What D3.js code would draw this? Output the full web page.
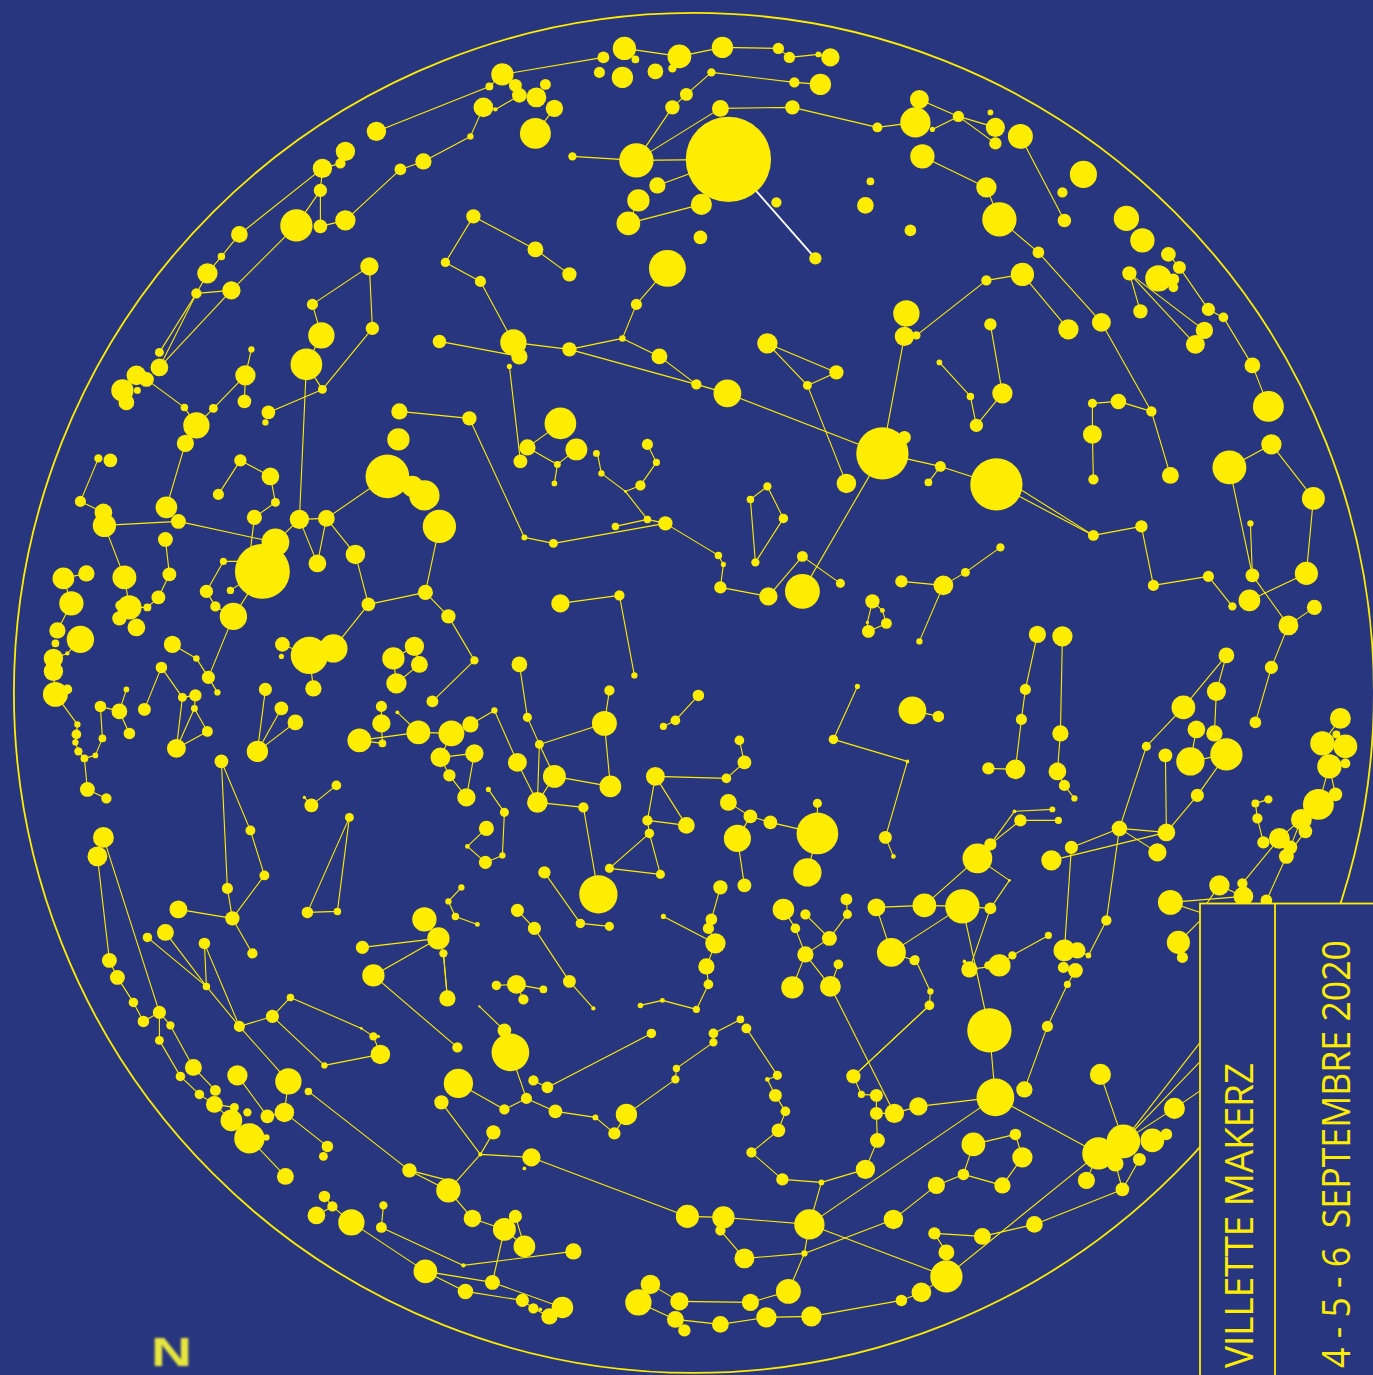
<!DOCTYPE html>
<html><head><meta charset="utf-8">
<script src="https://cdn.jsdelivr.net/npm/d3@7"></script>
<style>html,body{margin:0;padding:0;background:#28367f;overflow:hidden}svg{display:block}</style>
</head><body><svg id="c" width="1373" height="1375"></svg>
<script>
// Stars: [sky x, sky y, brightness]
const starsNorthWest=[[376,131,9.5],[345,151,9.5],[340,163,5],[322,168,9.5],[320,190,6.5],[320,226,6.7],[345,220,10],[296,225,16],[239,234,8.2],[221,256,3.6],[207,273,10],[196,293,5],[231,290,9],[159,352,4.3],[159,367,8.7],[136,375,9.7],[146,379,7.3],[122,390,11],[126,402,7.7],[137,390,3.3],[184,407,3.6],[196,425,13],[185,443,8.4],[213,408,4.3],[245,375,10],[251,349,3],[244,401,6.7],[268,412,6.7],[265,422,3],[322,389,4.3],[306,364,15.7],[321,335,13],[312,304,5.4],[369,266,9],[372,328,6.5],[399,411,8],[398,439,11],[387,476,21.7],[400,169,5.7],[423,161,8],[445,262,4.5],[439,341,6.6],[98,458,4],[110,460,6.7],[240,460,6]];
const starsNorth=[[624,48,11.5],[635,59,3.7],[603,57,5.8],[599,72,5.4],[622,77,10.5],[655,71,7.7],[679,56,11.7],[672,68,4],[722,47,10.5],[778,48,5.5],[789,57,5.5],[818,54,2.8],[830,57,9],[711,72,4],[794,82,5],[820,84,10.5],[686,94,6.3],[672,107,7],[720,108,8.3],[792,107,7],[877,127,4.8],[636,160,17],[572,156,4],[728,159,42.5],[657,185,8],[638,200,11],[701,204,10.4],[628,223,11.7],[700,237,6.7],[776,202,5],[815,258,6],[865,205,8.2],[870,181,3.7],[910,230,5.7],[667,268,18.3],[636,304,5.4],[622,338,3.1],[659,356,7.8],[569,349,7],[513,342,13],[519,356,8],[509,366,2.4],[696,384,5],[727,393,13.7],[767,343,10],[836,372,7],[807,385,4.3],[906,313,13],[904,336,9.5],[916,335,4],[882,453,26],[904,437,6.3],[535,249,7.8],[569,274,7],[480,281,5.4],[473,216,7],[469,418,7],[560,423,15.7],[527,447,8],[576,449,10.8],[520,461,6.8],[647,444,5.4],[596,453,3.3],[502,74,11],[489,86,3.8],[515,85,6.3],[519,95,7.2],[545,84,5.3],[536,97,9.8],[554,108,8.5],[483,107,9.7],[495,109,2],[535,133,15.3],[470,136,3]];
const starsNorthEast=[[919,99,9.3],[915,122,15],[958,116,5.5],[932,129,2.4],[990,112,2.7],[995,127,9.4],[995,143,6],[1020,136,12.3],[922,156,12],[986,187,10],[999,219,17],[1083,174,13.4],[1062,192,5],[1064,220,6.6],[1126,218,12.5],[1142,240,12],[1168,254,7.2],[1179,267,6.3],[1129,273,7],[1158,278,13],[1173,279,5.7],[1173,287,4.7],[1208,309,6.5],[1223,317,4.7],[1140,311,7],[1204,330,8.5],[1195,344,9.3],[1038,252,5.7],[1022,274,11.5],[986,280,5],[1068,329,10],[1101,322,9.3],[990,324,6],[939,362,2.7],[970,396,3.6],[1002,393,10],[976,425,6.5],[1252,365,7.7],[1268,406,15.3],[1271,444,10],[1229,467,16.8],[1118,401,7.6],[1092,403,4.4],[1151,411,5],[1092,434,9.3],[1093,479,5],[1170,475,8.3]];
const starsWest=[[80,501,5.4],[103,512,8.7],[104,525,11.5],[178,521,7.3],[166,507,10.7],[165,539,7.3],[169,574,6.8],[158,597,6.8],[147,607,3.8],[124,577,11.8],[129,607,12],[120,605,5],[119,618,7],[136,627,8.7],[63,578,10.7],[86,573,8],[71,603,12],[57,630,8],[80,639,13.5],[55,643,3.7],[67,653,2],[53,658,9.5],[53,671,9.5],[55,694,12.3],[67,689,4.7],[77,724,3],[76,734,4.7],[75,742,3],[78,751,4],[84,758,3.7],[95,755,2.7],[102,738,3.7],[100,706,5.6],[119,711,7.7],[126,689,2.7],[129,733,5.6],[87,789,7.3],[106,798,5],[144,709,6.3],[161,667,5.6],[172,644,8.4],[196,658,3.1],[208,677,6.4],[217,692,3],[182,697,4.3],[195,695,6],[194,708,3.3],[207,731,5.3],[176,748,9.3],[265,689,6.4],[281,708,6.7],[295,722,7.7],[257,751,10.5],[221,761,6.7],[250,830,4.8],[264,875,4.8],[227,888,5.4],[232,918,7],[178,909,8.8],[103,837,10.3],[97,856,9.8],[311,805,6.8],[336,785,4.7],[304,797,1.5],[349,817,4.3],[337,911,3.6],[307,912,5.6],[218,494,5.4],[270,476,8.7],[275,502,4.3],[254,517,7.4],[275,542,13.7],[262,571,27.3],[223,561,3.4],[206,591,6.5],[215,606,5],[230,590,3.5],[233,616,13.5],[299,519,9.5],[326,518,8.2],[317,563,8.7],[355,554,9.6],[368,604,6.7],[425,592,7.4],[448,616,7],[412,486,10.5],[424,495,15],[439,526,16.5],[282,644,7.2],[281,656,2.4],[309,655,18.5],[333,648,14],[313,688,8],[393,658,11],[414,646,9.5],[419,664,8.3],[396,683,10],[432,701,5.8],[381,706,5.4],[381,723,9],[397,712,1.8],[382,743,3.7],[359,740,11.8],[418,732,11.8],[451,733,12.8],[440,757,9.7],[449,775,6]];
const starsCentre=[[557,464,3.3],[554,483,2.7],[601,473,3],[640,485,5],[656,462,3.4],[625,491,1.3],[647,519,3.6],[615,526,3.6],[665,523,7],[524,537,2.8],[553,543,4.3],[718,555,3.6],[723,564,2.4],[720,587,6],[768,596,9],[802,591,17.3],[802,556,5.3],[840,583,4.4],[767,486,4],[750,499,3.6],[783,518,4.6],[755,562,4],[846,483,9.6],[901,581,6],[872,601,7],[882,610,2.3],[886,623,5.3],[867,622,1.5],[868,631,6.3],[560,603,9],[619,595,5],[634,675,3],[519,664,7.7],[527,717,4.4],[539,744,4.3],[494,710,3],[470,724,8],[474,753,9],[466,797,9],[517,762,9.3],[554,776,11.3],[537,802,10.2],[583,807,5],[604,723,12.3],[609,690,5],[610,786,10.7],[474,660,4],[663,726,3.4],[675,720,4.7],[698,695,5.6],[739,740,4.7],[744,762,6.8],[726,778,4.7],[655,776,9.3],[647,820,5],[649,833,4.6],[686,825,8.2],[609,868,4.4],[660,874,4.4],[598,894,19],[728,802,8.3],[750,816,6.7],[770,822,6.7],[817,833,20.7],[817,803,4.4],[737,838,13.4],[744,885,6.8],[807,872,14],[720,887,7],[783,909,10.6],[805,914,5],[846,899,5.8],[847,914,4.4],[876,907,8.8],[833,739,4.6],[857,686,2.4],[907,761,1.7],[885,837,6.3],[893,856,2.2],[488,789,2.4],[504,812,4.4],[502,855,3],[486,828,7.4],[467,846,2.2],[485,862,6.4],[544,872,6],[517,910,6.4],[461,887,3],[448,901,3],[455,916,3.6],[424,919,12]];
const starsEast=[[940,466,5.3],[928,482,3.7],[996,484,26],[1093,535,5.3],[1141,526,6],[1153,585,5.4],[1208,576,5.4],[1232,606,4],[1252,575,6.7],[1249,600,10.7],[1306,573,11.4],[1313,498,11.3],[1250,523,3],[1288,625,9.8],[1314,607,7.4],[1271,667,6.4],[1255,722,5.7],[943,585,9.7],[965,572,4.3],[1000,547,4],[919,641,3],[1037,634,8.4],[1062,636,10],[1025,689,5.4],[1021,719,5.4],[1015,769,9.7],[988,768,6],[1060,733,8],[1057,771,8.7],[1064,785,5.4],[1074,798,3],[912,710,13.7],[938,716,5.6],[1226,655,7.7],[1216,691,9.4],[1183,707,11.7],[1146,746,4.4],[1196,729,8.7],[1214,733,8],[1226,754,16],[1190,761,14],[1165,755,6.8],[1197,795,6.4],[1166,832,8.7],[1119,828,7.6],[1157,852,9],[1071,847,6.4],[1051,860,10],[1340,718,10.3],[1336,734,3.8],[1322,743,12],[1345,746,11.7],[1345,763,4.8],[1329,766,12],[1335,794,6.7],[1318,804,15.3],[1301,819,10.3],[1305,831,6.7],[1279,838,10.3],[1290,847,6.7],[1286,856,7.3],[1263,842,6],[1257,818,5],[1255,803,3.8],[1268,799,4],[1242,883,5],[1219,885,10],[1243,896,9.7],[1266,900,5.7],[1170,902,12.3],[1106,920,5],[1020,820,6],[1014,811,1.7],[1052,809,2.8],[1058,820,3.4],[990,844,6],[977,858,14.7],[1009,880,1.3],[990,908,5.8],[962,906,17],[924,905,11.7]];
const starsSouthWest=[[109,960,7.3],[117,977,7.3],[133,1002,4.6],[143,1021,5.6],[159,1012,6.4],[170,1025,4],[159,1040,4.3],[193,1067,8.3],[180,1076,4.6],[199,1094,4.6],[215,1090,5.3],[214,1104,8.3],[234,1107,4.3],[247,1112,4],[231,1120,10.7],[249,1138,15],[266,1137,3],[267,1116,6.7],[284,1112,9.6],[237,1075,10],[288,1081,13],[308,1091,3.6],[327,1146,5.6],[323,1156,4.3],[285,1176,8.3],[147,937,4.6],[165,932,8.3],[204,943,5.6],[206,986,3.6],[239,1026,5.4],[272,1016,6.4],[290,997,3.6],[361,1028,1.3],[373,1036,4],[378,1036,1.5],[380,1054,9.6],[324,1065,3],[252,953,5],[362,947,6.4],[438,938,11],[443,953,4],[447,998,8],[373,975,11],[457,1047,5],[441,1102,7],[458,1083,14.5],[409,1170,7],[448,1190,12],[324,1196,5.6],[332,1206,5],[316,1215,8.7],[351,1222,13],[383,1205,4],[381,1227,5.3],[425,1271,11.7]];
const starsSouth=[[477,924,2.3],[534,928,6.4],[580,923,4.6],[609,926,4.4],[663,916,2.4],[711,919,5.7],[708,928,5.4],[715,943,10],[706,966,8],[708,984,4.7],[696,1009,3.4],[662,1000,2.3],[640,1005,2.6],[496,985,4.6],[516,984,9.3],[543,989,3.7],[523,999,5],[569,981,6.3],[593,1008,2],[479,1006,1],[504,1030,6.7],[510,1052,18.7],[651,1033,4.6],[533,1080,5],[547,1087,5.7],[526,1098,5.4],[504,1109,5],[555,1111,6.7],[595,1117,2.8],[614,1133,6],[626,1114,10.5],[675,1079,4],[676,1068,3.5],[713,1042,4],[713,1033,4.7],[740,1019,3.7],[746,1028,4.8],[777,1075,4.4],[767,1079,2.2],[775,1095,6.3],[785,1111,4.7],[778,1130,6.7],[751,1152,5],[782,1179,6],[821,1182,2.7],[865,1169,9.5],[877,1140,7.3],[876,1113,6.3],[876,1095,6.3],[861,1094,3.4],[853,1076,7],[894,1113,9.5],[891,952,14.3],[914,960,4.8],[838,964,4.7],[830,986,10.3],[792,987,11],[805,954,8],[795,928,4.7],[829,938,7.3],[493,1132,7],[480,1154,2],[531,1157,9],[524,1168,1.7],[472,1218,8.6],[515,1216,6.4],[504,1229,11.3],[524,1246,10.7],[573,1251,8],[463,1265,2],[492,1282,7.3],[465,1291,7.6],[522,1300,6.4],[533,1308,5],[540,1309,1.7],[562,1307,10.6],[549,1316,8],[687,1216,11.4],[723,1217,11],[720,1230,5],[744,1258,9.8],[809,1224,15],[804,1253,3],[893,1219,9.6],[788,1291,12.3],[650,1284,9.6],[638,1302,13],[679,1301,9],[750,1302,8.4],[675,1319,8.3],[684,1330,6],[720,1324,8.2],[766,1317,10],[811,1316,10],[901,1300,5.6]];
const starsSouthEast=[[1178,942,11.4],[1182,957,5.4],[1048,935,3.4],[1012,955,4],[999,965,11],[988,965,4],[969,969,8],[964,961,1.7],[915,959,4],[930,991,3],[929,1005,4.7],[1064,950,10.7],[1077,950,8],[1088,955,2.7],[1063,967,5.4],[1075,970,7.3],[1067,984,3.4],[1047,1026,5.4],[1024,1089,8],[989,1030,22],[995,1097,18.7],[918,1106,9],[1100,1074,10.4],[973,1144,11.7],[1015,1134,5.6],[1022,1157,10],[963,1174,5.6],[1002,1185,8],[936,1185,8.4],[1098,1153,16],[1123,1141,16.7],[1152,1140,11.7],[1166,1134,5.7],[1115,1163,8],[1139,1159,6.3],[1086,1180,8.4],[1122,1189,6.7],[1174,1108,10.4],[934,1233,6],[982,1236,8.3],[1034,1224,8.2],[946,1252,7.8],[946,1276,16],[921,1292,9.7]];

// Constellation figures: polylines through sky positions, [x,y,x,y,...]
const figuresNorth=[[489,86,376,131],[489,86,502,74,603,57],[624,48,679,56,722,47,778,48,789,57,818,54,830,57],[794,82,711,72,686,94,672,107,636,160],[794,82,820,84],[572,156,636,160,720,108,792,107,877,127,915,122],[636,160,728,159],[657,185,728,159],[628,223,701,204],[638,200,628,223],[667,268,636,304,622,338,569,349,513,342],[622,338,659,356,696,384],[569,349,696,384,727,393,882,453],[439,341,519,356],[513,342,480,281,445,262,473,216,535,249,569,274],[509,366,520,461],[767,343,836,372,807,385,767,343],[807,385,846,483],[483,107,495,109,519,95],[483,107,470,136,423,161],[535,133,554,108],[560,423,527,447,557,464,576,449],[557,464,554,483],[647,444,656,462],[904,336,882,453],[906,313,904,336],[882,453,940,466,996,484],[940,466,928,482]];
const figuresWest=[[322,168,239,234,221,256,207,273,196,293,231,290,296,225,320,190,322,168],[320,190,320,226,345,220,400,169,423,161],[322,168,340,163],[231,290,159,367],[196,293,159,352],[196,293,159,367],[146,379,184,407,196,425,213,408,245,375,251,349],[245,375,244,401],[196,425,185,443,166,507],[268,412,322,389,372,328,369,266,312,304,321,335],[322,389,306,364,321,335],[306,364,299,519],[399,411,469,418,524,537,553,543,665,523],[98,458,80,501,103,512],[104,525,178,521,275,542],[104,525,124,577,129,607],[165,539,169,574,158,597,147,607,129,607],[63,578,86,573],[71,603,63,578],[71,603,57,630],[80,639,67,653,53,658],[53,671,55,694,77,724,76,734,75,742,78,751,84,758,95,755,102,738,100,706,119,711,126,689],[119,711,129,733],[84,758,87,789,106,798],[240,460,218,494],[240,460,270,476,275,502,254,517,250,550],[223,561,206,591,215,606,233,616,262,571],[223,561,262,561],[230,590,245,580],[233,616,208,677,196,658,172,644],[208,677,217,692],[144,709,161,667,182,697,195,695],[182,697,176,748,194,708,207,731,176,748],[195,695,194,708],[265,689,257,751],[281,708,257,751],[295,722,257,751],[221,761,250,830,264,875,232,918,227,888,221,761],[178,909,232,918,252,953],[304,797,311,805,336,785],[349,817,307,912,337,911,349,817],[299,519,326,518,387,476],[299,519,275,542],[299,519,317,563,326,518],[326,518,355,554,368,604,425,592,439,526],[425,592,448,616,474,660,432,701],[368,604,333,648],[313,688,309,655],[282,644,309,655],[414,646,393,658,396,683,419,664,414,646],[381,706,381,723,382,743],[359,740,418,732],[359,740,382,743],[397,712,418,732,451,733,440,757,449,775,466,797],[440,757,474,753,466,797]];
const figuresNorthEast=[[919,99,958,116,995,127],[958,116,932,129],[958,116,995,143],[1020,136,1064,220],[922,156,986,187,999,219,1038,252,1101,322,1151,411,1170,475],[1151,411,1118,401,1092,403,1092,434,1093,479],[916,335,986,280,1022,274,1068,329],[990,324,1002,393,976,425,970,396,939,362],[1129,273,1140,311],[1129,273,1204,330],[1129,273,1195,344],[1168,254,1179,267,1208,309,1223,317,1252,365,1268,406],[1229,467,1271,444,1313,498,1306,573,1249,600],[996,484,1093,535,1141,526,1153,585,1208,576,1232,606],[1001,477,1093,535],[1229,467,1252,575,1288,625,1314,607],[1250,523,1252,575],[1288,625,1271,667,1255,722]];
const figuresCentre=[[601,473,597,453],[601,473,625,491,640,485,656,462],[625,491,647,519,665,523],[615,526,647,519],[665,523,718,555,723,564,720,587,768,596,802,556,840,583],[750,499,767,486,783,518,755,562,750,499],[802,591,882,453],[560,603,619,595,634,675],[519,664,527,717,539,744,604,723,609,690],[604,723,610,786,554,776,539,744],[539,744,537,802,583,807,598,894],[554,776,537,802],[470,724,494,710,517,762,537,802],[663,726,675,720,698,695],[739,740,744,762,726,778,655,776,647,820,686,825,655,776],[647,820,649,833,660,874,609,868,649,833],[728,802,750,816,770,822,817,833,817,803],[750,816,737,838,744,885],[817,833,807,872],[720,887,711,919],[857,686,833,739,907,761,885,837,893,856],[488,789,504,812,502,855,485,862,467,846,486,828],[544,872,580,923,609,926],[876,907,924,905,962,906],[872,601,867,622,868,631,886,623,882,610,872,601],[901,581,943,585,965,572,1000,547],[943,585,919,641],[461,887,448,901,455,916,477,924],[424,919,438,938,443,953,447,998]];
const figuresEast=[[912,710,938,716],[1037,634,1025,689,1021,719,1015,769,988,768],[1062,636,1060,733,1057,771,1064,785,1074,798],[1226,655,1183,707,1146,746,1119,828],[1226,655,1216,691,1214,733],[1196,729,1190,761,1226,754],[1226,754,1197,795,1166,832,1165,755],[1119,828,1166,832],[1119,828,1157,852],[1071,847,1119,828],[1051,860,1166,832],[1071,847,1064,950],[1119,828,1106,920,1088,955,1077,950],[1014,811,1052,809],[1020,820,1058,820],[1014,811,990,844],[1020,820,990,844],[990,844,977,858,1009,880,990,908],[977,858,924,905],[962,906,990,908,969,969],[1340,718,1322,743],[1329,766,1318,804],[1329,766,1335,794],[1268,799,1255,803,1257,818,1263,842],[1279,838,1242,883],[1286,856,1266,900],[1318,804,1279,838],[1301,819,1286,856],[1305,831,1286,856],[1170,902,1243,896],[1170,902,1200,912],[1219,885,1243,896],[1219,885,1205,905],[1178,942,1199,921]];
const figuresSouthWest=[[97,856,109,960,117,977,133,1002,143,1021,159,1012,170,1025,193,1067,215,1090],[103,837,159,1012,159,1040,180,1076,199,1094,214,1104,234,1107],[214,1104,231,1120],[237,1075,267,1116,284,1112,327,1146],[284,1112,288,1081,239,1026,206,986,147,937],[165,932,206,986],[204,943,206,986],[204,943,239,1026,272,1016,290,997,361,1028,373,1036,380,1054,324,1065,272,1016],[373,1036,378,1036],[249,1138,285,1176],[362,947,438,938,373,975,457,1047],[443,953,447,998],[308,1091,409,1170,448,1190,472,1218],[409,1170,448,1180],[441,1102,480,1154],[316,1215,332,1206,324,1196],[332,1206,351,1222,425,1271,465,1291,522,1300,533,1308,549,1316],[383,1205,381,1227,463,1265,573,1251]];
const figuresSouth=[[517,910,534,928,569,981,593,1008],[663,916,715,943,706,966,708,984,696,1009,662,1000,640,1005],[711,919,708,928,715,943],[496,985,516,984,543,989],[516,984,523,999],[479,1006,504,1030,510,1052,526,1098],[458,1083,504,1109,526,1098,555,1111,595,1117,614,1133,626,1114,675,1079,676,1068,713,1042,713,1033,740,1019],[533,1080,547,1087,651,1033],[746,1028,777,1075,767,1079,775,1095,785,1111,778,1130,751,1152,782,1179,821,1182,865,1169,877,1140,876,1113,876,1095,861,1094,853,1076,929,1005],[876,1113,894,1113,918,1106],[830,986,894,1113],[783,909,795,928,805,954,792,987],[805,954,829,938,847,914,846,899],[805,914,829,938],[805,954,830,986,838,964],[876,907,891,952,962,906],[891,952,914,960],[821,1182,809,1224,995,1097],[809,1224,723,1217,687,1216,531,1157,480,1154],[493,1132,480,1154,448,1190],[720,1230,744,1258,804,1253,893,1219],[809,1224,804,1253,788,1291,750,1302,679,1301,650,1284],[809,1224,946,1276],[638,1302,675,1319,720,1324,766,1317,811,1316,901,1300,921,1292],[472,1218,504,1229,524,1246,515,1216],[504,1229,492,1282],[425,1271,492,1282,562,1307]];
const figuresSouthEast=[[1048,935,1012,955,999,965,969,969],[962,906,989,1030,995,1097],[915,959,930,991,929,1005,853,1076],[1075,970,1067,984,1047,1026,1024,1089],[918,1106,995,1097,1098,1153],[1100,1074,1123,1141],[1123,1141,1199,1043],[1123,1141,1199,1062],[1123,1141,1174,1108,1199,1091],[1115,1163,1122,1189,1139,1159],[1122,1189,1034,1224,982,1236,934,1233,946,1252],[1098,1153,946,1276,921,1292],[973,1144,1015,1134,1022,1157,1002,1185,963,1174,973,1144],[963,1174,936,1185,893,1219],[1086,1180,1098,1153]];
// The one highlighted figure, in white
const highlightFigure=[728,159,815,258];

const titleLines=["VILLETTE MAKERZ","4 - 5 - 6  SEPTEMBRE 2020"];
const northMark="N";

const W=1373,H=1375,YEL="#ffed00",BG="#28367f";
const sx=d3.scaleLinear().domain([0,W]).range([0.4,W+0.4]);
const sy=d3.scaleLinear().domain([0,H]).range([0.4,H+0.4]);
const sr=d3.scaleLinear().domain([0,100]).range([0,100]);
const svg=d3.select("#c");
svg.append("rect").attr("width",W).attr("height",H).attr("fill",BG);
const defs=svg.append("defs");
defs.append("filter").attr("id","soft").append("feGaussianBlur").attr("stdDeviation",0.8);

const allFigures=[].concat(figuresNorth,figuresWest,figuresNorthEast,figuresCentre,figuresEast,figuresSouthWest,figuresSouth,figuresSouthEast);
const allStars=[].concat(starsNorthWest,starsNorth,starsNorthEast,starsWest,starsCentre,starsEast,starsSouthWest,starsSouth,starsSouthEast);
const pairs=f=>d3.range(0,f.length,2).map(i=>[f[i],f[i+1]]);
const line=d3.line().x(d=>sx(d[0])).y(d=>sy(d[1]));

svg.append("circle").attr("cx",sx(693.5)).attr("cy",sy(692.5)).attr("r",680).attr("fill","none").attr("stroke",YEL).attr("stroke-width",1.8);
svg.append("g").selectAll("path").data(allFigures).join("path").attr("d",f=>line(pairs(f))).attr("fill","none").attr("stroke",YEL).attr("stroke-width",1.1).attr("stroke-linejoin","round");
svg.append("path").attr("d",line(pairs(highlightFigure))).attr("stroke","#fff").attr("stroke-width",1.9).attr("fill","none");
svg.append("g").selectAll("circle").data(allStars).join("circle").attr("cx",d=>sx(d[0])).attr("cy",d=>sy(d[1])).attr("r",d=>sr(d[2])+0.15).attr("fill",YEL);

// Title panel
svg.append("rect").attr("x",1200).attr("y",903.5).attr("width",190).attr("height",500).attr("fill",BG).attr("stroke",YEL).attr("stroke-width",1.8);
svg.append("line").attr("x1",1275).attr("x2",1275).attr("y1",903.5).attr("y2",H).attr("stroke",YEL).attr("stroke-width",1.8);
const titleText=(s,x,len,size)=>svg.append("text").attr("transform",`translate(${x},1368) rotate(-90)`).attr("font-family","'Open Sans'").attr("font-size",size).attr("fill",YEL).attr("textLength",len).attr("lengthAdjust","spacingAndGlyphs").style("white-space","pre").text(s);
titleText(titleLines[0],1253,305,38);
titleText(titleLines[1],1350,428,38);
svg.append("text").attr("x",151).attr("y",1366).attr("font-family","'Liberation Sans'").attr("font-weight","bold").attr("font-size",40).attr("fill","#e6e63c").attr("textLength",41).attr("lengthAdjust","spacingAndGlyphs").attr("filter","url(#soft)").text(northMark);
</script></body></html>
